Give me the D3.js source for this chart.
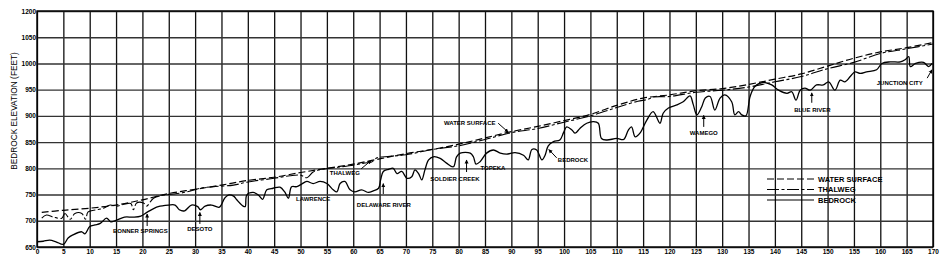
<!DOCTYPE html>
<html>
<head>
<meta charset="utf-8">
<script src="https://cdn.jsdelivr.net/npm/d3@7"></script>
<style>
  body { margin: 0; background: #fff; }
  svg { display: block; font-family: "Liberation Sans", Arial, sans-serif; }
</style>
</head>
<body>
<div id="chart"></div>
<script>
// river mile ticks and elevation tick labels
const xTicks = d3.range(0, 171, 5);
const yTicks = [650, 700, 750, 800, 850, 900, 950, 1000, 1050, 1100];
const yTickLabels = ["650", "700", "750", "800", "850", "900", "950", "1000", "1050", "1200"];

// [river mile, elevation ft]
const waterSurface = [[0.9,716],[5,720],[10,724],[15,730],[20,740],[25,752],[30,760],[35,768],[40,777],[45,783],
  [50,792],[55,800],[60,808],[65,818],[70,828],[75,836],[80,846],[85,858],[90,870],[95,880],[100,891],
  [105,903],[110,920],[115,934],[120,940],[125,948],[130,952],[135,960],[140,970],[145,980],[150,995],
  [155,1010],[160,1022],[165,1030],[170,1040]];

const thalweg = [[0.9,705],[1.8,711],[3.1,707],[4.7,705],[5.3,714],[6.3,703],[7.2,714],[8.5,714],[9.2,703],
  [9.7,717],[11.3,721],[12.6,724],[13.9,730],[15.1,728],[16.7,732],[17.8,733],[18.3,721],[18.9,734],
  [20.2,734],[20.8,728],[22.1,743],[24,749],[25.9,751],[28.4,755],[30.9,762],[33.5,765],[37.3,768],
  [40,774],[45,781],[48,786],[50,787],[51.2,782],[52.4,793],[54,798],[57,802],[60,806],[62,810],
  [63.5,812],[64.5,820],[66,822],[70,826],[74,834],[75,836],[80,843],[85,855],[90,868],[95,876],
  [100,888],[105,900],[110,916],[114,928],[115.7,931],[117,936],[120,937],[125,945],[130,949],
  [135,955],[140,965],[145,975],[150,990],[155,1002],[160,1019],[165,1028],[170,1037]];

const bedrock = [[0,660],[1.2,661],[2.4,663],[3.6,660],[5,655],[5.9,667],[6.8,673],[8.5,679],[9.1,675],
  [10,689],[11,692],[12,695],[13.2,705],[14,698],[15,701],[16.6,707],[18.2,707],[19.7,709],[21,717],
  [23,727],[25,730],[26.2,730],[27,721],[28,719],[29.3,730],[30.5,727],[31,721],[31.9,728],[33.1,730],
  [34.6,726],[35.6,743],[36.3,749],[37.3,747],[37.9,740],[39.1,728],[39.5,727],[39.8,749],[41,754],
  [42,749],[42.8,741],[43.6,759],[44.8,762],[46.1,764],[47,755],[47.7,743],[48.3,765],[49.3,765],
  [50.2,770],[51.2,775],[52.4,771],[53.7,775],[55,771],[56.2,759],[56.9,755],[57.5,771],[58.4,775],
  [59.4,759],[60.3,755],[61.6,759],[62.9,754],[63.8,757],[64.8,762],[65.2,778],[65.7,794],[66.7,798],
  [67.6,800],[68.3,790],[69.2,794],[70.2,781],[71.1,784],[71.7,797],[72.4,790],[73,778],[73.6,797],
  [74.3,816],[75.2,822],[76.5,819],[77.7,810],[79,803],[79.6,822],[80.3,829],[82.2,829],[82.8,822],
  [83.3,808],[84.1,813],[85.3,829],[86.6,835],[87.9,829],[89.1,827],[90.7,830],[92.3,825],[93.2,816],
  [93.9,836],[94.8,835],[95.8,816],[96.4,825],[97,843],[98,851],[99.2,854],[99.9,868],[100.5,879],
  [101.5,873],[102.1,867],[103,876],[104.3,886],[105.6,889],[106.5,886],[107.1,857],[108.1,854],
  [110,857],[111.3,855],[112.2,873],[112.8,879],[113.5,860],[114.4,867],[115.7,892],[116.9,908],
  [118.2,886],[118.8,905],[119.8,915],[121.4,921],[122.6,927],[123.9,938],[124.5,922],[125.2,902],
  [126.1,917],[126.8,934],[127.7,937],[128.6,911],[129.6,934],[130.5,940],[131.8,927],[132.4,902],
  [133.1,908],[133.7,902],[134.5,900],[135.3,937],[136.2,956],[137.8,964],[139.4,959],[140.7,949],
  [142.3,943],[143.2,946],[144,930],[144.8,949],[145.7,953],[146.7,949],[147.9,959],[149.2,959],
  [150.2,965],[151.4,949],[152.4,968],[153.3,965],[154.3,975],[155.2,984],[156.2,981],[157.4,984],
  [159.3,988],[160.3,1000],[161.9,1003],[163.8,1003],[164.7,1007],[165.4,1013],[165.7,994],
  [166.7,1000],[168.2,1002],[169.2,994],[169.8,1000]];

// place names: text at (mile, elev), optional arrow from a to b
const annotations = [
  { text: "BONNER SPRINGS", x: 19.6, y: 681, arrow: [[20.9, 690], [20.9, 713]] },
  { text: "DESOTO", x: 30.9, y: 685, arrow: [[30.9, 694], [30.9, 716]] },
  { text: "LAWRENCE", x: 52.4, y: 742 },
  { text: "DELAWARE RIVER", x: 65.8, y: 731, arrow: [[65.7, 751], [65.7, 771]] },
  { text: "THALWEG", x: 58.4, y: 792, arrow: [[61.5, 799], [63.4, 815]] },
  { text: "SOLDIER CREEK", x: 79.3, y: 779, arrow: [[81.5, 793], [81.5, 816]] },
  { text: "TOPEKA", x: 86.5, y: 800 },
  { text: "BEDROCK", x: 101.7, y: 817, arrow: [[98.6, 820], [97.1, 836]] },
  { text: "WATER SURFACE", x: 82.1, y: 887, arrow: [[87.5, 886], [89.4, 869]] },
  { text: "WAMEGO", x: 126.5, y: 868, arrow: [[126.5, 879], [126.5, 901]] },
  { text: "BLUE RIVER", x: 147.1, y: 912, arrow: [[147, 925], [147, 944]] },
  { text: "JUNCTION CITY", x: 163.7, y: 962, arrow: [[168.9, 972], [169.8, 988]] }
];

const legendItems = [
  { name: "WATER SURFACE", dash: "7,3" },
  { name: "THALWEG", dash: "12,2.5,3,2.5" },
  { name: "BEDROCK", dash: null }
];

const w = 951, h = 271;
const margin = { top: 11, right: 18, bottom: 24, left: 37 };

const svg = d3.select("#chart")
  .append("svg")
  .attr("width", w)
  .attr("height", h);

svg.append("defs").append("marker")
  .attr("id", "arrow")
  .attr("viewBox", "0 0 10 10")
  .attr("refX", 9)
  .attr("refY", 5)
  .attr("markerWidth", 4)
  .attr("markerHeight", 5)
  .attr("markerUnits", "userSpaceOnUse")
  .attr("orient", "auto")
  .append("path")
  .attr("d", "M0,0 L10,5 L0,10 Z")
  .attr("fill", "#000");

const xScale = d3.scaleLinear().domain([0, 170]).range([margin.left, w - margin.right]);
const yScale = d3.scaleLinear().domain([650, 1100]).range([h - margin.bottom, margin.top]);

// grid + axes
const xAxis = d3.axisBottom(xScale)
  .tickValues(xTicks)
  .tickSize(-(h - margin.top - margin.bottom))
  .tickPadding(2)
  .tickFormat(d3.format("d"));

const yAxis = d3.axisLeft(yScale)
  .tickValues(yTicks)
  .tickSize(-(w - margin.left - margin.right))
  .tickPadding(1)
  .tickFormat((d, i) => yTickLabels[i]);

const gx = svg.append("g")
  .attr("transform", "translate(0," + (h - margin.bottom) + ")")
  .call(xAxis);
gx.select(".domain").remove();
gx.selectAll(".tick line").attr("stroke", "#111").attr("stroke-width", 1.3);
gx.selectAll(".tick text")
  .attr("font-size", 6.5)
  .attr("font-weight", "bold")
  .attr("font-family", "Liberation Sans, Arial, sans-serif")
  .attr("fill", "#000");

const gy = svg.append("g")
  .attr("transform", "translate(" + margin.left + ",0)")
  .call(yAxis);
gy.select(".domain").remove();
gy.selectAll(".tick line").attr("stroke", "#333").attr("stroke-width", 1.4);
gy.selectAll(".tick text")
  .attr("font-size", 6.5)
  .attr("font-weight", "bold")
  .attr("font-family", "Liberation Sans, Arial, sans-serif")
  .attr("fill", "#000");

// frame
svg.append("rect")
  .attr("x", margin.left)
  .attr("y", margin.top)
  .attr("width", w - margin.left - margin.right)
  .attr("height", h - margin.top - margin.bottom)
  .attr("fill", "none")
  .attr("stroke", "#000")
  .attr("stroke-width", 1.4);

// y title
svg.append("text")
  .attr("transform", "rotate(-90)")
  .attr("x", -111)
  .attr("y", 17)
  .attr("text-anchor", "middle")
  .attr("font-size", 8.3)
  .text("BEDROCK ELEVATION (FEET)");

// lines
const line = d3.line()
  .x(d => xScale(d[0]))
  .y(d => yScale(d[1]))
  .curve(d3.curveCatmullRom.alpha(0.5));

svg.append("path")
  .datum(waterSurface)
  .attr("d", line)
  .attr("fill", "none")
  .attr("stroke", "#000")
  .attr("stroke-width", 1.2)
  .attr("stroke-dasharray", legendItems[0].dash);

svg.append("path")
  .datum(thalweg)
  .attr("d", line)
  .attr("fill", "none")
  .attr("stroke", "#000")
  .attr("stroke-width", 1.1)
  .attr("stroke-dasharray", legendItems[1].dash);

svg.append("path")
  .datum(bedrock)
  .attr("d", line)
  .attr("fill", "none")
  .attr("stroke", "#000")
  .attr("stroke-width", 1.3);

// annotations
const ann = svg.append("g");
ann.selectAll("text")
  .data(annotations)
  .enter()
  .append("text")
  .attr("x", d => xScale(d.x))
  .attr("y", d => yScale(d.y))
  .attr("dy", "0.35em")
  .attr("text-anchor", "middle")
  .attr("font-size", 6)
  .attr("font-weight", "bold")
  .text(d => d.text);

ann.selectAll("line")
  .data(annotations.filter(d => d.arrow))
  .enter()
  .append("line")
  .attr("x1", d => xScale(d.arrow[0][0]))
  .attr("y1", d => yScale(d.arrow[0][1]))
  .attr("x2", d => xScale(d.arrow[1][0]))
  .attr("y2", d => yScale(d.arrow[1][1]))
  .attr("stroke", "#000")
  .attr("stroke-width", 1)
  .attr("marker-end", "url(#arrow)");

// legend
const legend = svg.append("g").attr("transform", "translate(767,179)");
legendItems.forEach((d, i) => {
  legend.append("line")
    .attr("x1", 0)
    .attr("x2", 47)
    .attr("y1", i * 10.5)
    .attr("y2", i * 10.5)
    .attr("stroke", "#000")
    .attr("stroke-width", 1.2)
    .attr("stroke-dasharray", d.dash);
  legend.append("text")
    .attr("x", 51)
    .attr("y", i * 10.5)
    .attr("dy", "0.35em")
    .attr("font-size", 7.5)
    .attr("font-weight", "bold")
    .text(d.name);
});
</script>
</body>
</html>
